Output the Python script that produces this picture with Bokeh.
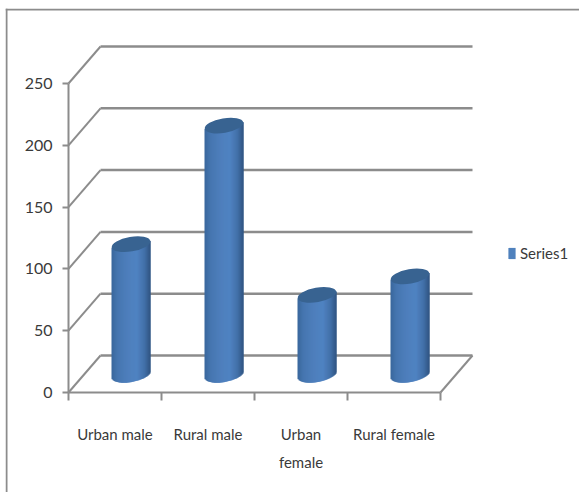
from bokeh.embed import file_html
from bokeh.resources import INLINE
from bokeh.plotting import figure
from bokeh.models import (FixedTicker, Legend, LegendItem, LinearAxis, Range1d, ColumnDataSource, Span)
import numpy as np

categories = ["Urban male", "Rural male", "Urban\nfemale", "Rural female"]
series_name = "Series1"
values = [105, 201, 64, 79]
value_ticks = [0, 50, 100, 150, 200, 250]

W, H = 579, 492
ORIGIN_X, ORIGIN_Y = 68, 392   # page position of the front axes' origin
FRAME_L, FRAME_T = 5, 8
UNIT_X = 93.0      # pixels per category
UNIT_Y = 1.236     # pixels per value unit
DEPTH_X = 32 / UNIT_X
DEPTH_Y = 37 / UNIT_Y
GREY = "#8c8c8c"
TEXT = "#3a3a3a"
FONT = "Lato"

p = figure(width=W, height=H, output_backend="svg", toolbar_location=None,
           x_range=Range1d((FRAME_L - ORIGIN_X) / UNIT_X, (W - ORIGIN_X) / UNIT_X),
           y_range=Range1d((ORIGIN_Y - H) / UNIT_Y, (ORIGIN_Y - FRAME_T) / UNIT_Y),
           x_axis_location=None, y_axis_location=None,
           min_border_left=FRAME_L, min_border_bottom=0,
           min_border_right=0, min_border_top=FRAME_T, outline_line_color=None)
p.xgrid.visible = False
p.ygrid.visible = False

# Chart area border, running off the page on the right and at the bottom
p.add_layout(Span(location=(6 - ORIGIN_X) / UNIT_X, dimension="height",
                  line_color=GREY, line_width=2))
p.add_layout(Span(location=(ORIGIN_Y - 9) / UNIT_Y, dimension="width",
                  line_color=GREY, line_width=2))

# Value axis with outward ticks, pinned to the front corner
ya = LinearAxis(fixed_location=0, ticker=FixedTicker(ticks=value_ticks), bounds=(0, 250))
ya.axis_line_color = GREY
ya.axis_line_width = 2
ya.major_tick_line_color = GREY
ya.major_tick_line_width = 2
ya.major_tick_in = 0
ya.major_tick_out = 6
ya.minor_tick_line_color = None
ya.major_label_text_font = FONT
ya.major_label_text_font_size = "16px"
ya.major_label_text_color = TEXT
ya.major_label_standoff = 10
p.add_layout(ya, "left")

# Category axis: ticks on the boundaries, labels between them
xa = LinearAxis(fixed_location=0,
                ticker=FixedTicker(ticks=[i + 0.5 for i in range(4)], minor_ticks=list(range(5))),
                bounds=(0, 4))
xa.major_label_overrides = {i + 0.5: c for i, c in enumerate(categories)}
xa.axis_line_color = GREY
xa.axis_line_width = 2
xa.major_tick_line_color = None
xa.minor_tick_line_color = GREY
xa.minor_tick_line_width = 2
xa.minor_tick_in = 0
xa.minor_tick_out = 8
xa.major_label_text_font = FONT
xa.major_label_text_font_size = "15px"
xa.major_label_text_color = TEXT
xa.major_label_text_line_height = 1.6
xa.major_label_standoff = 24
p.add_layout(xa, "below")

# Back wall, side wall and floor edges
grid = [v for v in value_ticks]
p.segment(x0=[DEPTH_X] * len(grid), y0=[v + DEPTH_Y for v in grid],
          x1=[4 + DEPTH_X] * len(grid), y1=[v + DEPTH_Y for v in grid],
          line_color=GREY, line_width=2.5)
p.segment(x0=[0] * len(grid), y0=grid, x1=[DEPTH_X] * len(grid),
          y1=[v + DEPTH_Y for v in grid], line_color=GREY, line_width=2)
p.segment(x0=[4], y0=[0], x1=[4 + DEPTH_X], y1=[DEPTH_Y], line_color=GREY, line_width=2)

# Cylinders: a flat body for the legend, shaded strips over it, then the cap
centers = [i + 0.5 + DEPTH_X / 2 for i in range(4)]
BAR_W = 39 / UNIT_X
base = DEPTH_Y / 2
A, B, TILT = 19.5, 8.0, 3.5
body = p.vbar(x=centers, width=BAR_W * 0.9, bottom=base + 5,
              top=[v + base for v in values], fill_color="#4f81bd", line_color=None)

stops_u = [-1.0, -0.7, -0.2, 0.3, 0.7, 1.0]
stops_rgb = np.array([[58, 104, 156], [70, 118, 176], [78, 127, 188],
                      [80, 131, 194], [66, 112, 168], [48, 84, 128]], dtype=float)
N = 39
edges = np.linspace(-1, 1, N + 1)
mids = (edges[:-1] + edges[1:]) / 2
strip_color = ["#%02x%02x%02x" % tuple(int(np.interp(u, stops_u, stops_rgb[:, k])) for k in range(3))
               for u in mids]
half = BAR_W / 2
for cx, v in zip(centers, values):
    lower = (-np.sqrt(1 - mids ** 2) * B + mids * TILT) / UNIT_Y
    upper = mids * TILT / UNIT_Y
    src = ColumnDataSource(dict(
        left=cx + edges[:-1] * half,
        right=np.minimum(cx + edges[1:] * half + 1.2 / UNIT_X, cx + half),
        bottom=base + lower,
        top=v + base + upper,
        color=strip_color))
    p.quad(left="left", right="right", bottom="bottom", top="top", source=src,
           fill_color="color", line_color=None)

p.ellipse(x=centers, y=[v + base for v in values], width=39, height=14.5,
          width_units="screen", height_units="screen", angle=0.17,
          fill_color="#386391", line_color=None)

legend = Legend(items=[LegendItem(label=series_name, renderers=[body])],
                location=(502, 230), glyph_width=9, glyph_height=14,
                label_text_font=FONT, label_text_font_size="15px",
                label_text_color=TEXT, background_fill_alpha=0, border_line_color=None,
                padding=0, margin=0, label_standoff=4, spacing=0)
p.add_layout(legend, "center")

open("out.html", "w").write(file_html(p, INLINE))
